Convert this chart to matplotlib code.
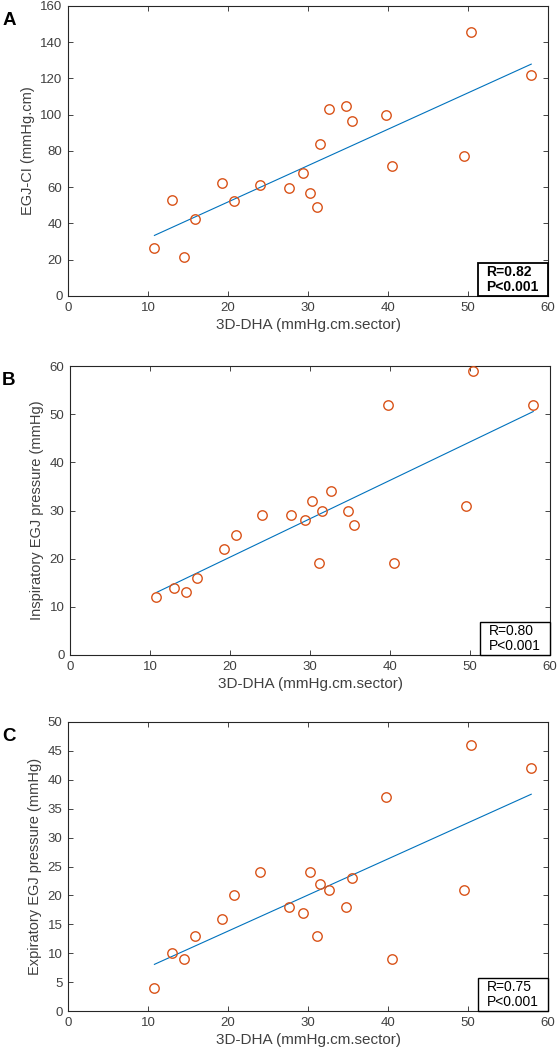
import numpy as np
import matplotlib
matplotlib.use("Agg")
import matplotlib.pyplot as plt
from matplotlib.patches import Rectangle

plt.rcParams['font.family'] = ['Liberation Sans', 'DejaVu Sans']

dha = [10.8, 13.0, 14.5, 15.9, 19.2, 20.7, 24.0, 27.6, 29.4, 30.3,
       31.1, 31.45, 32.66, 34.76, 35.5, 39.7, 40.5, 49.55, 50.4, 57.9]
egj_ci = [26.3, 52.7, 21.7, 42.6, 62.6, 52.3, 61.2, 59.5, 68.1, 56.9,
          49.0, 83.8, 103.2, 104.9, 96.4, 99.6, 71.6, 77.0, 145.5, 121.8]
insp = [12, 14, 13, 16, 22, 25, 29, 29, 28, 32, 19, 30, 34, 30, 27, 52, 19, 31, 59, 52]
expi = [4, 10, 9, 13, 16, 20, 24, 18, 17, 24, 13, 22, 21, 18, 23, 37, 9, 21, 46, 42]

panels = [
    dict(letter='A', y=egj_ci, ylabel='EGJ-CI (mmHg.cm)', ylim=(0, 160), yticks=np.arange(0, 161, 20),
         r='R=0.82', p='P<0.001', bold=True, rect=[0.1221, 0.7181, 0.8618, 0.2762]),
    dict(letter='B', y=insp, ylabel='Inspiratory EGJ pressure (mmHg)', ylim=(0, 60), yticks=np.arange(0, 61, 10),
         r='R=0.80', p='P<0.001', bold=False, rect=[0.1257, 0.3762, 0.8618, 0.2752]),
    dict(letter='C', y=expi, ylabel='Expiratory EGJ pressure (mmHg)', ylim=(0, 50), yticks=np.arange(0, 51, 5),
         r='R=0.75', p='P<0.001', bold=False, rect=[0.1221, 0.0371, 0.8618, 0.2753]),
]

fig = plt.figure(figsize=(5.57, 10.5), dpi=100)
gray = '#404040'
x = np.array(dha)
for pn in panels:
    ax = fig.add_axes(pn['rect'])
    y = np.array(pn['y'])
    ax.plot(x, y, 'o', mfc='none', mec='#D95319', ms=6.8, mew=1.0, zorder=3)
    k, b = np.polyfit(x, y, 1)
    xx = np.array([x.min(), x.max()])
    ax.plot(xx, k * xx + b, color='#0072BD', lw=0.8, zorder=2)
    ax.set_xlim(0, 60)
    ax.set_ylim(*pn['ylim'])
    ax.set_xticks(np.arange(0, 61, 10))
    ax.set_yticks(pn['yticks'])
    ax.tick_params(direction='in', top=True, right=True, length=3.5, width=0.6,
                   labelsize=9.5, labelcolor=gray, color='#262626', pad=4)
    for s in ax.spines.values():
        s.set_linewidth(0.8)
        s.set_color('#262626')
    ax.set_xlabel('3D-DHA (mmHg.cm.sector)', fontsize=11, color=gray, labelpad=3)
    ax.set_ylabel(pn['ylabel'], fontsize=10.5, color=gray, labelpad=4)
    # stats box
    w, h = 0.145, 0.114
    ax.add_patch(Rectangle((1 - w, 0), w, h, transform=ax.transAxes, fc='white',
                           ec='black', lw=1.3 if pn['bold'] else 1.0, zorder=5, clip_on=False))
    fw = 'bold' if pn['bold'] else 'normal'
    ax.text(1 - w + 0.017, h * 0.73, pn['r'], transform=ax.transAxes, fontsize=10,
            fontweight=fw, va='center', ha='left', zorder=6)
    ax.text(1 - w + 0.017, h * 0.27, pn['p'], transform=ax.transAxes, fontsize=10,
            fontweight=fw, va='center', ha='left', zorder=6)
    # panel letter
    bb = pn['rect']
    fig.text(0.004, bb[1] + bb[3] - 0.006, pn['letter'], fontsize=13.5, fontweight='bold',
             va='top', ha='left')

fig.savefig('out.png', dpi=100)
